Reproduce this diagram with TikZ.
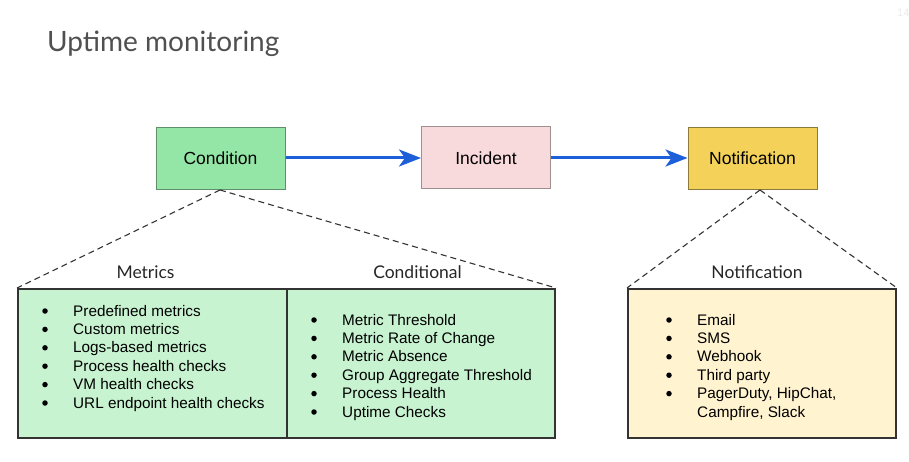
\documentclass[tikz,border=0pt]{standalone}
\usepackage{fontspec}
\setmainfont{Liberation Sans}
\newfontfamily\titlef{Lato}
\usetikzlibrary{arrows.meta}
\definecolor{condfill}{HTML}{93E6A5}
\definecolor{condline}{HTML}{5F8F6A}
\definecolor{incfill}{HTML}{F9DADC}
\definecolor{incline}{HTML}{9E9090}
\definecolor{notfill}{HTML}{F4D25A}
\definecolor{notline}{HTML}{8C7A3A}
\definecolor{lgreen}{HTML}{C7F3D0}
\definecolor{lyellow}{HTML}{FFF3D0}
\definecolor{boxline}{HTML}{333333}
\definecolor{arrowblue}{HTML}{1C5FD8}
\definecolor{titlegray}{HTML}{505050}
\tikzset{
  topbox/.style={draw, line width=1pt, minimum width=129pt, minimum height=62pt, inner sep=0pt, font=\fontsize{17.5}{20}\selectfont},
  listbox/.style={draw=boxline, line width=2pt, minimum height=149pt, inner sep=0pt},
  flow/.style={draw=arrowblue, line width=3pt, -{Stealth[length=22pt,width=17pt,inset=6pt]}},
  fan/.style={draw=boxline, line width=1.1pt, dash pattern=on 6pt off 4pt},
  head/.style={font=\titlef\fontsize{17.5}{20}\selectfont, text=black!85, inner sep=0pt},
  item/.style={font=\fontsize{15.3}{18}\selectfont, inner sep=0pt, anchor=base west},
  bul/.style={circle, fill=black, inner sep=0pt, minimum size=5.5pt},
}
\begin{document}
\begin{tikzpicture}[x=1pt,y=-1pt]
\useasboundingbox[fill=white] (0,0) rectangle (909,462);
\node[font=\titlef\fontsize{28}{32}\selectfont, text=titlegray, anchor=base west, inner sep=0pt] (title) at (47,52) {Uptime monitoring};
\node[font=\fontsize{11}{12}\selectfont, text=black!8, anchor=base west, inner sep=0pt] (pg) at (897,17) {14};

\node[topbox, fill=condfill, draw=condline] (cond) at (220.5,158.5) {Condition};
\node[topbox, fill=incfill, draw=incline] (inc) at (486,158) {Incident};
\node[topbox, fill=notfill, draw=notline] (notif) at (752.5,158.5) {Notification};

\draw[flow] (cond.east |- inc.east) -- (inc.west);
\draw[flow] (inc.east) -- (notif.west |- inc.east);

\node[listbox, fill=lgreen, minimum width=269pt] (metrics) at (152.5,363.5) {};
\node[listbox, fill=lgreen, minimum width=268pt] (condl) at (421,363.5) {};
\node[listbox, fill=lyellow, minimum width=268pt] (notl) at (762,363.5) {};

\coordinate (cb) at (220,190);
\coordinate (nb) at (760,190);
\draw[fan] (cb) -- (metrics.north west);
\draw[fan] (cb) -- (condl.north east);
\draw[fan] (nb) -- (notl.north west);
\draw[fan] (nb) -- (notl.north east);

\node[head, anchor=base] (hm) at (145.5,278) {Metrics};
\node[head, anchor=base] (hc) at (417.5,278) {Conditional};
\node[head, anchor=base] (hn) at (757,278) {Notification};

\foreach \t [count=\i] in {Predefined metrics, Custom metrics, Logs-based metrics, Process health checks, VM health checks, URL endpoint health checks}{
  \node[bul] (mb\i) at (45,{311+(\i-1)*18.4}) {};
  \node[item] (mi\i) at (73,{316+(\i-1)*18.4}) {\t};
}
\foreach \t [count=\i] in {Metric Threshold, Metric Rate of Change, Metric Absence, Group Aggregate Threshold, Process Health, Uptime Checks}{
  \node[bul] (cb\i) at (314,{320+(\i-1)*18.4}) {};
  \node[item] (ci\i) at (342,{325+(\i-1)*18.4}) {\t};
}
\foreach \t [count=\i] in {Email, SMS, Webhook, Third party, {PagerDuty, HipChat,}}{
  \node[bul] (nbu\i) at (669,{320+(\i-1)*18.4}) {};
  \node[item] (ni\i) at (697,{325+(\i-1)*18.4}) {\t};
}
\node[item] (ni6) at (697,{325+5*18.4}) {Campfire, Slack};
\end{tikzpicture}
\end{document}
